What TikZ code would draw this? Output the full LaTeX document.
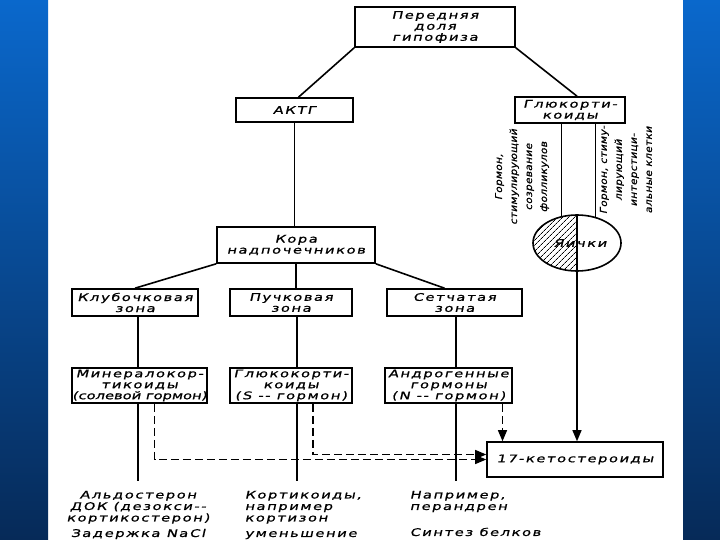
\documentclass[tikz,border=0pt]{standalone}
\usepackage{fontspec}
\newfontfamily\dfont[FakeStretch=1.4,FakeSlant=0.22,FakeBold=1,LetterSpace=15]{DejaVu Sans}
\newfontfamily\rfont[FakeStretch=1.1,FakeSlant=0.22,FakeBold=1,LetterSpace=4]{DejaVu Sans}
\usetikzlibrary{positioning,arrows,shapes,patterns,patterns.meta,calc}
\definecolor{slidetop}{RGB}{10,104,204}
\definecolor{slidebot}{RGB}{6,42,88}

\begin{document}
\begin{tikzpicture}[x=1pt,y=-1pt,>=triangle 45,line width=1.6pt]
	\tikzset{hbox/.style={draw,align=center,inner sep=0pt,font=\dfont\fontsize{10.5}{11}\selectfont}}
	\tikzstyle{note}=[align=center,inner sep=0pt,font=\dfont\fontsize{10.5}{11.5}\selectfont]
	\tikzstyle{side}=[rotate=90,align=center,inner sep=0pt,font=\rfont\fontsize{9.5}{15}\selectfont]
	\tikzstyle{dashlink}=[->,dash pattern=on 8pt off 4pt]
	\useasboundingbox (0,0) rectangle (720,540);
	\fill[white] (0,0) rectangle (720,540);
	\shade[top color=slidetop,bottom color=slidebot] (0,0) rectangle (48,540);
	\shade[top color=slidetop,bottom color=slidebot] (683,0) rectangle (720,540);

	%% boxes
	\node[hbox,minimum width=160pt,minimum height=40pt] (hyp) at (435,27) {Передняя\\доля\\гипофиза};
	\node[hbox,minimum width=117pt,minimum height=24pt] (actg) at (294.5,110) {АКТГ};
	\node[hbox,minimum width=110pt,minimum height=26pt] (gluc) at (570,110) {Глюкорти-\\коиды};
	\node[hbox,minimum width=158pt,minimum height=36pt] (kora) at (296,245) {Кора\\надпочечников};
	\node[hbox,minimum width=126pt,minimum height=27pt] (z1) at (135,302.5) {Клубочковая\\зона};
	\node[hbox,minimum width=122pt,minimum height=27pt] (z2) at (291,302.5) {Пучковая\\зона};
	\node[hbox,minimum width=135pt,minimum height=27pt] (z3) at (454.5,302.5) {Сетчатая\\зона};
	\node[hbox,minimum width=135pt,minimum height=35pt] (g1) at (139.5,385.5)
		{Минералокор-\\тикоиды\\{\addfontfeature{LetterSpace=0}(солевой гормон)}};
	\node[hbox,minimum width=122pt,minimum height=35pt] (g2) at (291,385.5) {Глюкокорти-\\коиды\\(S -- гормон)};
	\node[hbox,minimum width=127pt,minimum height=35pt] (g3) at (448.5,385.5) {Андрогенные\\гормоны\\(N -- гормон)};
	\node[hbox,minimum width=176pt,minimum height=35pt] (keto) at (575,459.5) {17-кетостероиды};
	\node[draw,ellipse,minimum width=88pt,minimum height=56pt,inner sep=0pt,
		font=\dfont\fontsize{10.5}{11}\selectfont,
		path picture={\fill[pattern={Lines[angle=45,distance=4pt,line width=0.7pt]}]
			(path picture bounding box.south west) rectangle (path picture bounding box.north);}]
		(te) at (577,243) {\hspace{6pt}Яички};
	\draw (te.north) -- (te.south);

	%% side texts
	\node[side] (t1) at (522,177) {Гормон,\\стимулирующий\\созревание\\фолликулов};
	\node[side] (t2) at (626,170) {Гормон, стиму-\\лирующий\\интерстици-\\альные клетки};

	%% links
	\path
		(hyp.south west) edge ([xshift=4pt]actg.north)
		(hyp.south east) edge ([xshift=7pt]gluc.north)
		(actg.south) edge (actg.south |- kora.north)
		(kora.south west) edge (z1.north)
		(kora.south) edge (kora.south |- z2.north)
		(kora.south east) edge ([xshift=-10pt]z3.north);
	\coordinate (e1) at (138,481);
	\coordinate (e2) at (297,481);
	\coordinate (e3) at (456,481);
	\foreach \i in {1,2,3}
		\draw (e\i |- z\i.south) -- (e\i |- g\i.north) (e\i |- g\i.south) -- (e\i);
	\draw (gluc.south -| te.120) -- (te.120) (gluc.south -| te.55) -- (te.55);
	\draw[->] (te.south) -- (te.south |- keto.north);
	\coordinate (d1) at ([xshift=15pt]g1.south);
	\coordinate (d2) at ([xshift=22pt]g2.south);
	\coordinate (d3) at ([xshift=54pt]g3.south);
	\draw[dashlink] (d1) |- (keto.west);
	\draw[dashlink] (d2) |- ([yshift=5pt]keto.west);
	\draw[dashlink] (d3) -- (d3 |- keto.north);

	%% effects
	\node[note,anchor=north] (n1) at (138,490) {Альдостерон\\ДОК (дезокси--\\кортикостерон)\\[4pt]Задержка NaCl};
	\node[note,anchor=north west,align=left] (n2) at (244,490) {Кортикоиды,\\например\\кортизон\\[4pt]уменьшение};
	\node[note,anchor=north west,align=left] (n3) at (409,490) {Например,\\перандрен\\[14.5pt]Синтез белков};
\end{tikzpicture}
\end{document}
